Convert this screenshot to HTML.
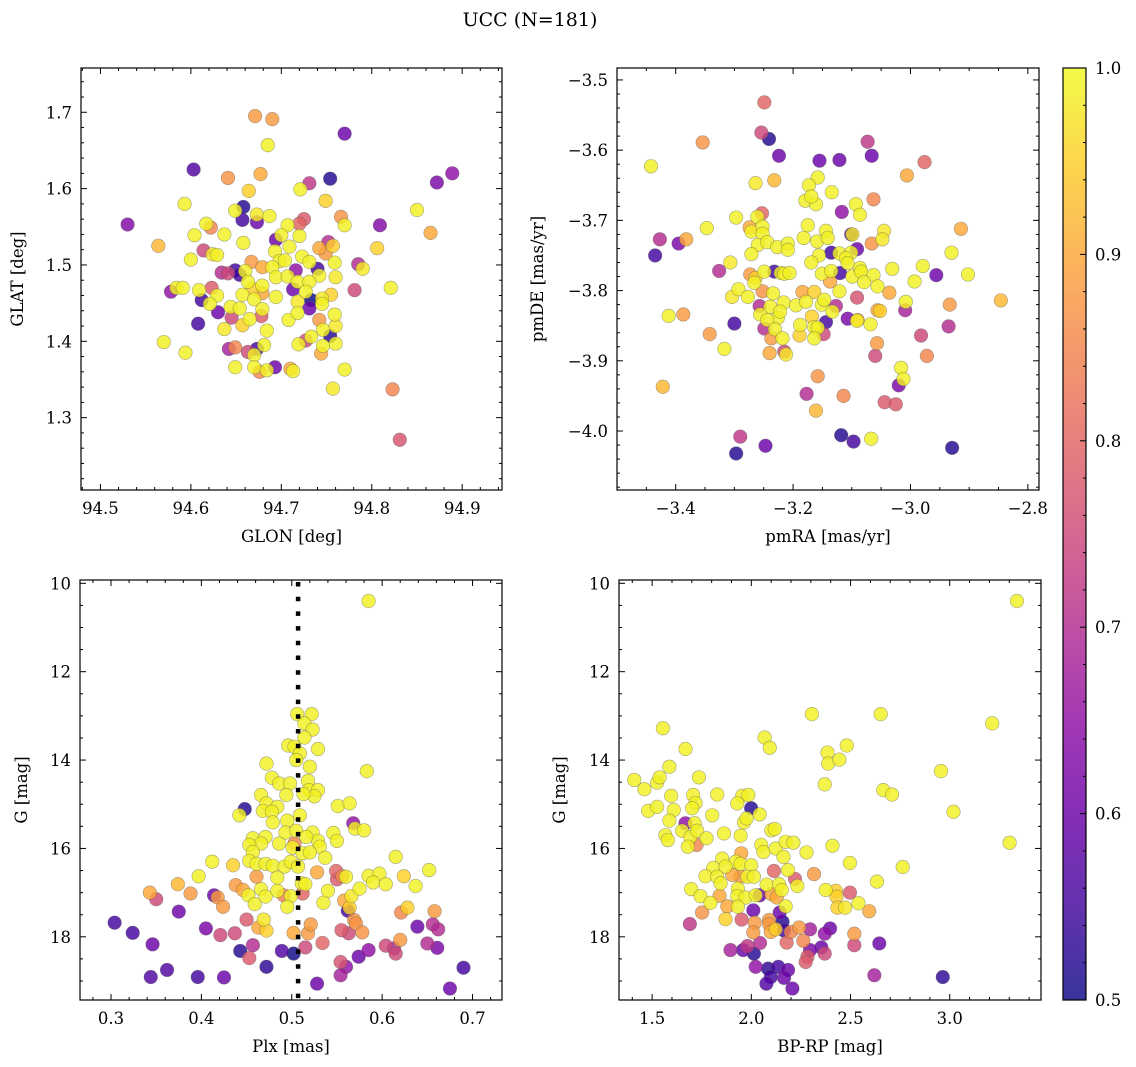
<!DOCTYPE html>
<html><head><meta charset="utf-8"><style>
html,body{margin:0;padding:0;background:#fff;}
svg{display:block;font-family:"DejaVu Serif","Liberation Serif",serif;}
</style></head><body>
<svg id="fig" width="1136" height="1067" viewBox="0 0 1136 1067" xmlns="http://www.w3.org/2000/svg">
<text x="530" y="26" font-size="19" text-anchor="middle">UCC (N=181)</text>
</svg>
<script>
// Panel 1: GLON / GLAT / membership probability
const glon = [94.671,94.690,94.685,94.770,94.603,94.641,94.677,94.754,94.731,94.721,94.664,94.593,94.749,94.658,94.649,94.673,94.687,94.657,94.673,94.530,94.622,94.617,94.707,94.720,94.725,94.766,94.770,94.809,94.564,94.604,94.637,94.658,94.694,94.700,94.720,94.614,94.624,94.629,94.693,94.709,94.742,94.752,94.757,94.749,94.806,94.600,94.667,94.679,94.698,94.704,94.723,94.731,94.759,94.785,94.790,94.634,94.641,94.649,94.654,94.660,94.690,94.716,94.740,94.742,94.760,94.663,94.679,94.694,94.707,94.718,94.731,94.578,94.584,94.591,94.609,94.623,94.629,94.657,94.668,94.679,94.713,94.727,94.755,94.781,94.821,94.612,94.621,94.630,94.644,94.654,94.670,94.694,94.718,94.733,94.731,94.745,94.745,94.608,94.637,94.645,94.657,94.665,94.678,94.679,94.708,94.718,94.742,94.759,94.760,94.746,94.570,94.594,94.642,94.649,94.663,94.673,94.670,94.681,94.684,94.719,94.727,94.733,94.754,94.760,94.746,94.744,94.649,94.670,94.676,94.684,94.693,94.710,94.713,94.770,94.757,94.823,94.831,94.850,94.865,94.872,94.889];
const glat = [1.695,1.691,1.657,1.672,1.625,1.614,1.619,1.613,1.607,1.599,1.597,1.580,1.584,1.576,1.571,1.566,1.564,1.559,1.556,1.553,1.549,1.554,1.552,1.554,1.560,1.563,1.552,1.552,1.525,1.539,1.540,1.529,1.533,1.539,1.538,1.519,1.514,1.513,1.518,1.524,1.522,1.530,1.525,1.515,1.522,1.507,1.504,1.497,1.505,1.506,1.511,1.504,1.503,1.501,1.495,1.490,1.489,1.493,1.487,1.492,1.497,1.493,1.495,1.486,1.484,1.478,1.473,1.484,1.485,1.478,1.478,1.465,1.470,1.470,1.467,1.470,1.460,1.461,1.469,1.463,1.468,1.465,1.461,1.467,1.470,1.454,1.449,1.438,1.445,1.443,1.455,1.458,1.452,1.454,1.443,1.456,1.449,1.423,1.416,1.431,1.421,1.429,1.433,1.442,1.428,1.437,1.428,1.435,1.420,1.415,1.399,1.385,1.390,1.392,1.386,1.390,1.382,1.395,1.414,1.396,1.401,1.406,1.407,1.397,1.394,1.384,1.366,1.366,1.360,1.362,1.366,1.364,1.361,1.363,1.338,1.337,1.271,1.572,1.542,1.608,1.620];
const prob1 = [0.88,0.88,0.99,0.6,0.57,0.87,0.9,0.52,0.72,0.99,0.95,0.99,0.95,0.52,0.99,0.98,0.99,0.55,0.6,0.63,0.85,0.99,0.99,0.8,0.78,0.87,0.99,0.63,0.92,0.99,0.99,0.99,0.6,0.99,0.99,0.75,0.98,0.99,0.99,0.99,0.9,0.7,0.95,0.88,0.95,0.99,0.88,0.9,0.99,0.99,0.99,0.99,0.99,0.7,0.98,0.7,0.75,0.55,0.55,0.99,0.99,0.65,0.55,0.99,0.98,0.99,0.99,0.99,0.99,0.99,0.99,0.65,0.99,0.99,0.99,0.78,0.99,0.99,0.95,0.9,0.6,0.99,0.95,0.75,0.99,0.55,0.99,0.6,0.99,0.99,0.99,0.99,0.98,0.5,0.6,0.98,0.99,0.55,0.98,0.75,0.95,0.99,0.78,0.99,0.99,0.99,0.88,0.99,0.98,0.99,0.99,0.99,0.68,0.85,0.75,0.55,0.99,0.99,0.99,0.99,0.75,0.99,0.52,0.99,0.99,0.9,0.99,0.99,0.85,0.99,0.6,0.9,0.99,0.99,0.98,0.85,0.77,0.99,0.9,0.62,0.65];

// Panel 2: pmRA / pmDE / probability
const pmra = [-3.249,-3.254,-3.241,-3.354,-3.073,-3.224,-3.155,-3.121,-3.066,-2.976,-3.442,-3.006,-3.264,-3.232,-3.158,-3.173,-3.134,-3.179,-3.161,-3.169,-3.063,-3.093,-3.086,-3.117,-3.253,-3.297,-3.261,-3.347,-3.274,-3.271,-3.252,-3.252,-3.175,-3.144,-2.914,-3.427,-3.395,-3.382,-3.260,-3.244,-3.227,-3.209,-3.209,-3.182,-3.159,-3.141,-3.101,-3.099,-3.045,-3.048,-3.066,-3.435,-3.271,-3.156,-3.135,-3.121,-3.091,-3.101,-2.930,-3.307,-3.169,-3.110,-3.107,-3.326,-3.273,-3.249,-3.232,-3.221,-3.215,-3.206,-3.151,-3.135,-3.120,-3.099,-3.086,-3.084,-3.063,-3.031,-2.979,-2.956,-2.902,-3.266,-3.264,-3.137,-3.079,-3.056,-2.993,-3.293,-3.252,-3.234,-3.184,-3.164,-3.121,-3.036,-3.304,-3.277,-2.846,-3.257,-3.239,-3.216,-3.195,-3.178,-3.151,-3.147,-3.127,-3.133,-3.091,-3.008,-3.009,-2.933,-3.412,-3.387,-3.256,-3.226,-3.222,-3.168,-3.300,-3.244,-3.144,-3.107,-3.090,-3.091,-3.068,-3.056,-3.052,-3.249,-3.231,-3.188,-3.164,-3.158,-3.148,-2.935,-3.342,-3.237,-3.218,-3.189,-3.164,-2.982,-3.317,-3.240,-3.215,-3.212,-3.057,-3.060,-2.972,-3.016,-3.020,-3.012,-3.158,-3.422,-3.177,-3.114,-3.044,-3.025,-3.161,-3.290,-3.247,-3.297,-3.118,-3.097,-3.067,-2.929];
const pmde = [-3.532,-3.575,-3.584,-3.589,-3.588,-3.608,-3.615,-3.614,-3.608,-3.617,-3.623,-3.636,-3.647,-3.643,-3.639,-3.650,-3.660,-3.672,-3.677,-3.666,-3.670,-3.677,-3.692,-3.688,-3.690,-3.696,-3.695,-3.711,-3.710,-3.716,-3.709,-3.719,-3.707,-3.715,-3.712,-3.727,-3.733,-3.727,-3.735,-3.731,-3.738,-3.733,-3.742,-3.725,-3.730,-3.725,-3.720,-3.720,-3.715,-3.727,-3.733,-3.750,-3.748,-3.750,-3.746,-3.747,-3.741,-3.746,-3.746,-3.760,-3.760,-3.754,-3.761,-3.772,-3.777,-3.773,-3.773,-3.775,-3.776,-3.775,-3.776,-3.772,-3.775,-3.780,-3.768,-3.773,-3.778,-3.769,-3.765,-3.778,-3.777,-3.789,-3.782,-3.787,-3.788,-3.794,-3.787,-3.798,-3.801,-3.804,-3.802,-3.802,-3.801,-3.803,-3.809,-3.809,-3.814,-3.822,-3.823,-3.817,-3.821,-3.816,-3.820,-3.813,-3.822,-3.830,-3.810,-3.816,-3.828,-3.820,-3.836,-3.834,-3.834,-3.839,-3.830,-3.837,-3.847,-3.842,-3.845,-3.840,-3.842,-3.843,-3.848,-3.828,-3.829,-3.854,-3.855,-3.849,-3.852,-3.853,-3.862,-3.851,-3.862,-3.868,-3.868,-3.864,-3.868,-3.864,-3.883,-3.889,-3.887,-3.891,-3.875,-3.893,-3.893,-3.910,-3.935,-3.926,-3.922,-3.937,-3.947,-3.950,-3.959,-3.962,-3.971,-4.008,-4.021,-4.032,-4.006,-4.015,-4.011,-4.024];
const prob2 = [0.8,0.75,0.52,0.87,0.72,0.6,0.6,0.6,0.6,0.8,0.99,0.9,0.98,0.92,0.99,0.99,0.99,0.99,0.99,0.99,0.85,0.99,0.99,0.65,0.8,0.99,0.99,0.99,0.9,0.99,0.99,0.99,0.99,0.99,0.9,0.7,0.62,0.9,0.99,0.99,0.99,0.99,0.99,0.99,0.99,0.99,0.55,0.98,0.98,0.98,0.87,0.55,0.99,0.99,0.55,0.99,0.6,0.99,0.99,0.98,0.99,0.99,0.99,0.7,0.88,0.99,0.55,0.99,0.99,0.99,0.99,0.99,0.55,0.99,0.99,0.99,0.99,0.99,0.99,0.6,0.99,0.99,0.95,0.9,0.99,0.99,0.99,0.99,0.87,0.99,0.9,0.95,0.99,0.9,0.98,0.99,0.92,0.7,0.99,0.99,0.99,0.99,0.99,0.99,0.7,0.99,0.77,0.99,0.68,0.88,0.99,0.88,0.99,0.99,0.99,0.95,0.55,0.99,0.55,0.62,0.9,0.99,0.99,0.9,0.95,0.7,0.99,0.99,0.99,0.99,0.75,0.7,0.88,0.88,0.99,0.95,0.99,0.75,0.99,0.9,0.75,0.98,0.88,0.75,0.85,0.99,0.62,0.99,0.87,0.92,0.7,0.85,0.78,0.78,0.92,0.72,0.6,0.52,0.52,0.55,0.99,0.52];

// Panel 3: Plx / G / probability
const plx = [0.585,0.506,0.522,0.514,0.523,0.514,0.496,0.503,0.529,0.509,0.505,0.472,0.520,0.583,0.478,0.486,0.498,0.518,0.519,0.529,0.525,0.494,0.513,0.466,0.472,0.484,0.448,0.442,0.468,0.478,0.479,0.495,0.509,0.551,0.564,0.568,0.570,0.580,0.493,0.505,0.523,0.546,0.550,0.529,0.531,0.516,0.457,0.471,0.466,0.453,0.486,0.503,0.501,0.512,0.520,0.457,0.537,0.615,0.412,0.435,0.453,0.461,0.471,0.479,0.492,0.499,0.507,0.528,0.652,0.397,0.461,0.484,0.549,0.550,0.556,0.560,0.585,0.597,0.590,0.624,0.604,0.637,0.374,0.438,0.446,0.452,0.466,0.484,0.511,0.515,0.575,0.540,0.343,0.350,0.388,0.414,0.418,0.424,0.459,0.471,0.491,0.499,0.495,0.512,0.535,0.558,0.566,0.564,0.562,0.628,0.621,0.658,0.375,0.304,0.324,0.346,0.344,0.362,0.396,0.425,0.405,0.421,0.437,0.450,0.453,0.457,0.443,0.463,0.469,0.472,0.472,0.489,0.502,0.502,0.518,0.521,0.515,0.534,0.528,0.555,0.563,0.569,0.571,0.578,0.554,0.560,0.554,0.574,0.585,0.604,0.615,0.613,0.620,0.639,0.656,0.662,0.650,0.661,0.690,0.675];
const gmag3 = [10.40,12.96,12.96,13.17,13.31,13.49,13.67,13.70,13.75,13.85,14.00,14.08,14.15,14.25,14.40,14.53,14.53,14.47,14.68,14.68,14.82,14.79,14.77,14.79,14.98,15.06,15.11,15.25,15.15,15.17,15.41,15.37,15.25,15.04,14.98,15.43,15.55,15.59,15.64,15.60,15.64,15.65,15.83,15.83,15.96,15.74,15.77,15.74,15.89,15.92,15.89,15.89,15.98,16.11,16.09,16.08,16.21,16.19,16.30,16.38,16.28,16.35,16.35,16.39,16.41,16.30,16.41,16.54,16.49,16.63,16.64,16.66,16.51,16.70,16.63,16.64,16.62,16.57,16.77,16.63,16.81,16.85,16.81,16.83,16.94,17.06,16.92,16.96,16.79,16.81,16.91,16.96,17.00,17.15,17.02,17.06,17.11,17.32,17.26,17.09,17.06,17.08,17.32,17.02,17.23,17.18,17.08,17.34,17.41,17.34,17.45,17.42,17.43,17.68,17.91,18.17,18.91,18.75,18.91,18.92,17.81,17.96,17.92,17.61,18.48,18.19,18.32,17.79,17.61,17.86,18.68,18.32,18.38,17.91,17.92,17.72,18.24,18.14,19.06,17.85,17.92,17.62,17.70,17.90,18.57,18.68,18.87,18.45,18.30,18.20,18.38,18.26,18.07,17.77,17.72,17.83,18.15,18.25,18.70,19.17];
const prob3 = [0.99,0.99,0.99,0.99,0.99,0.99,0.99,0.99,0.99,0.99,0.99,0.99,0.99,0.99,0.99,0.99,0.99,0.99,0.99,0.99,0.99,0.99,0.99,0.99,0.99,0.99,0.52,0.99,0.99,0.99,0.99,0.99,0.99,0.99,0.99,0.65,0.99,0.99,0.99,0.99,0.99,0.99,0.99,0.99,0.99,0.99,0.99,0.99,0.99,0.99,0.99,0.85,0.99,0.99,0.99,0.99,0.99,0.99,0.99,0.95,0.99,0.99,0.99,0.99,0.99,0.99,0.99,0.9,0.99,0.99,0.88,0.99,0.8,0.78,0.85,0.99,0.99,0.99,0.99,0.95,0.99,0.99,0.92,0.88,0.9,0.99,0.99,0.99,0.99,0.99,0.99,0.99,0.9,0.75,0.88,0.6,0.88,0.88,0.99,0.99,0.85,0.99,0.99,0.8,0.99,0.9,0.98,0.95,0.55,0.95,0.85,0.88,0.6,0.55,0.55,0.6,0.57,0.57,0.55,0.6,0.62,0.75,0.75,0.78,0.78,0.7,0.52,0.9,0.98,0.95,0.53,0.57,0.5,0.9,0.88,0.88,0.75,0.8,0.6,0.78,0.75,0.87,0.87,0.87,0.77,0.65,0.68,0.6,0.65,0.75,0.75,0.7,0.88,0.6,0.7,0.7,0.7,0.62,0.55,0.6];

// Panel 4: BP-RP / G / probability
const bprp = [3.339,2.305,2.652,3.214,1.554,2.067,2.093,1.668,2.481,2.384,2.387,2.444,1.587,1.736,2.956,1.410,1.461,1.525,1.538,2.370,2.665,2.709,1.596,1.707,1.828,1.954,1.985,1.929,1.719,1.999,1.480,1.525,1.609,1.702,1.803,2.042,3.019,1.587,1.668,1.714,1.651,1.963,1.976,2.101,2.118,1.567,1.579,1.693,1.727,1.724,1.680,1.774,1.862,1.946,2.050,2.061,2.123,2.173,2.212,2.278,2.409,3.302,2.162,1.853,1.949,1.921,1.946,1.999,1.808,1.870,1.769,1.828,1.904,1.946,1.980,2.013,2.114,2.185,2.220,2.316,2.497,2.763,1.845,2.077,2.140,2.232,1.697,1.932,2.153,2.375,2.426,2.633,1.744,1.840,1.929,1.971,2.022,2.042,2.101,2.128,2.429,2.497,1.794,1.879,1.932,2.173,2.434,2.473,2.540,1.752,2.010,2.143,2.594,1.690,1.870,1.951,2.017,2.089,2.089,2.157,2.010,2.098,2.123,2.165,2.199,2.241,2.296,2.397,2.370,2.519,2.262,2.178,2.044,1.895,1.959,1.980,2.013,2.296,2.353,2.370,2.283,2.274,2.519,2.645,2.022,2.084,2.136,2.185,2.098,2.165,2.076,2.207,2.620,2.965];
const gmag4 = [10.40,12.96,12.96,13.17,13.28,13.49,13.72,13.75,13.67,13.83,14.08,13.99,14.15,14.39,14.25,14.45,14.66,14.51,14.39,14.55,14.68,14.78,14.81,14.79,14.78,14.81,14.79,14.98,14.97,15.09,15.15,15.06,15.13,15.09,15.25,15.23,15.17,15.37,15.43,15.43,15.60,15.41,15.32,15.59,15.56,15.70,15.81,15.74,15.60,15.92,15.96,15.77,15.66,15.71,15.92,16.08,16.00,15.85,15.87,16.09,15.94,15.87,16.19,16.23,16.11,16.30,16.35,16.38,16.44,16.41,16.63,16.64,16.60,16.64,16.64,16.64,16.51,16.49,16.69,16.58,16.33,16.42,16.79,16.82,16.81,16.85,16.92,16.91,16.94,16.94,16.96,16.75,17.08,17.07,17.08,17.11,17.06,17.06,17.03,17.11,17.09,17.00,17.23,17.31,17.32,17.31,17.34,17.34,17.24,17.45,17.40,17.45,17.42,17.71,17.60,17.61,17.68,17.62,17.71,17.66,17.90,17.89,17.83,17.86,17.89,17.79,17.83,17.81,17.93,17.93,18.09,18.13,18.14,18.30,18.30,18.21,18.38,18.30,18.24,18.38,18.45,18.57,18.19,18.15,18.68,18.72,18.68,18.75,18.91,18.93,19.06,19.17,18.87,18.91];
const prob4 = [0.99,0.99,0.99,0.99,0.99,0.99,0.99,0.99,0.99,0.99,0.99,0.99,0.99,0.99,0.99,0.99,0.99,0.99,0.99,0.99,0.99,0.99,0.99,0.99,0.99,0.99,0.99,0.99,0.99,0.52,0.99,0.99,0.99,0.99,0.99,0.99,0.99,0.99,0.65,0.99,0.99,0.99,0.99,0.99,0.99,0.99,0.99,0.99,0.99,0.85,0.99,0.99,0.99,0.99,0.99,0.99,0.99,0.99,0.99,0.99,0.99,0.99,0.99,0.99,0.9,0.99,0.99,0.99,0.99,0.99,0.99,0.99,0.9,0.88,0.99,0.99,0.8,0.99,0.78,0.88,0.99,0.99,0.99,0.99,0.99,0.99,0.99,0.99,0.99,0.99,0.95,0.99,0.99,0.9,0.99,0.99,0.99,0.6,0.9,0.9,0.95,0.78,0.99,0.9,0.99,0.99,0.95,0.98,0.99,0.87,0.6,0.6,0.9,0.72,0.95,0.78,0.88,0.88,0.88,0.52,0.88,0.9,0.95,0.55,0.85,0.88,0.68,0.6,0.65,0.88,0.85,0.8,0.7,0.68,0.6,0.72,0.52,0.62,0.6,0.75,0.78,0.78,0.75,0.6,0.65,0.53,0.55,0.6,0.55,0.6,0.57,0.6,0.68,0.53];

const plxRef = [0.507];
const cbTicks = [0.5,0.6,0.7,0.8,0.9,1.0];

const NS = 'http://www.w3.org/2000/svg';
const svg = document.getElementById('fig');
function mk(tag, attrs, parent){
  const e = document.createElementNS(NS, tag);
  for (const k in attrs) e.setAttribute(k, attrs[k]);
  (parent||svg).appendChild(e);
  return e;
}
const stops = [[13,8,135],[65,4,157],[106,0,168],[143,13,164],[177,42,144],[204,71,120],[225,100,98],[242,132,75],[252,166,54],[252,206,37],[240,249,33]];
function plasma(t){
  t = Math.max(0, Math.min(1, t));
  const f = t*10, i = Math.min(9, Math.floor(f)), r = f - i;
  const a = stops[i], b = stops[i+1];
  return 'rgb(' + [0,1,2].map(k => Math.round(a[k] + (b[k]-a[k])*r)).join(',') + ')';
}
function cnorm(p){ return (p - 0.5) / 0.5; }

function fmt(v, d){ const s = v.toFixed(d); return s.startsWith('-') ? '\u2212' + s.slice(1) : s; }

function panel(cfg){
  const {L,R,T,B,x0,x1,y0,y1,invertY,xt,xm,yt,ym,xd,yd,xlabel,ylabel,ylabX,name,xs,ys,ps} = cfg;
  const sx = v => L + (v - x0) / (x1 - x0) * (R - L);
  const sy = invertY ? (v => T + (v - y0) / (y1 - y0) * (B - T)) : (v => B - (v - y0) / (y1 - y0) * (B - T));
  const g = mk('g', {});
  
  
  const clipId = name + '-clip';
  const cp = mk('clipPath', {id: clipId}, g);
  mk('rect', {x: L, y: T, width: R-L, height: B-T}, cp);
  const pts = mk('g', {'clip-path': 'url(#' + clipId + ')'}, g);
  
  
  const idx = xs.map((_, i) => i).sort((a, b) => ps[a] - ps[b]);
  idx.forEach(i => {
    const c = mk('circle', {cx: sx(xs[i]), cy: sy(ys[i]), r: 6.8, fill: plasma(cnorm(ps[i])), 'fill-opacity': 0.82, stroke: '#555', 'stroke-opacity': 0.5, 'stroke-width': 0.6}, pts);
    
    
  });
  cfg.extra && cfg.extra(g, sx, sy, clipId);
  const fr = mk('rect', {x: L, y: T, width: R-L, height: B-T, fill: 'none', stroke: '#000', 'stroke-width': 1.2}, g);
  
  
  const tg = mk('g', {stroke: '#000', 'stroke-width': 1}, g);
  const eps = 1e-9;
  for (let v = Math.ceil((Math.min(x0,x1)) / xm - eps) * xm; v <= Math.max(x0,x1) + eps; v += xm) {
    const isMaj = Math.abs(v / xt - Math.round(v / xt)) < 1e-6;
    const len = isMaj ? 6 : 3, X = sx(v);
    mk('line', {x1: X, x2: X, y1: B, y2: B - len}, tg);
    mk('line', {x1: X, x2: X, y1: T, y2: T + len}, tg);
  }
  for (let v = Math.ceil((Math.min(y0,y1)) / ym - eps) * ym; v <= Math.max(y0,y1) + eps; v += ym) {
    const isMaj = Math.abs(v / yt - Math.round(v / yt)) < 1e-6;
    const len = isMaj ? 6 : 3, Y = sy(v);
    mk('line', {x1: L, x2: L + len, y1: Y, y2: Y}, tg);
    mk('line', {x1: R, x2: R - len, y1: Y, y2: Y}, tg);
  }
  for (let v = Math.ceil(Math.min(x0,x1) / xt - eps) * xt; v <= Math.max(x0,x1) + eps; v += xt) {
    const t = mk('text', {x: sx(v), y: B + 24, 'font-size': 16.5, 'text-anchor': 'middle'}, g);
    t.textContent = fmt(v, xd);
    
    
  }
  for (let v = Math.ceil(Math.min(y0,y1) / yt - eps) * yt; v <= Math.max(y0,y1) + eps; v += yt) {
    const t = mk('text', {x: L - 9, y: sy(v) + 6, 'font-size': 16.5, 'text-anchor': 'end'}, g);
    t.textContent = fmt(v, yd);
    
    
  }
  const xl = mk('text', {x: (L + R) / 2, y: B + 52, 'font-size': 16.5, 'text-anchor': 'middle'}, g);
  xl.textContent = xlabel;
  
  
  const yl = mk('text', {x: 0, y: 0, 'font-size': 16.5, 'text-anchor': 'middle', transform: 'translate(' + ylabX + ',' + ((T + B) / 2) + ') rotate(-90)'}, g);
  yl.textContent = ylabel;
  
  
}

panel({name:'glon-glat', L:81, R:502, T:68, B:490, x0:94.4785, x1:94.944, y0:1.2052, y1:1.758, xt:0.1, xm:0.02, yt:0.1, ym:0.02, xd:1, yd:1, xlabel:'GLON [deg]', ylabel:'GLAT [deg]', ylabX:23, xs:glon, ys:glat, ps:prob1});
panel({name:'pm', L:617, R:1039, T:68, B:490, x0:-3.5, x1:-2.781, y0:-4.084, y1:-3.483, xt:0.2, xm:0.05, yt:0.1, ym:0.02, xd:1, yd:1, xlabel:'pmRA [mas/yr]', ylabel:'pmDE [mas/yr]', ylabX:543, xs:pmra, ys:pmde, ps:prob2});
panel({name:'plx-g', L:80, R:502, T:580, B:1000, x0:0.2657, x1:0.7326, y0:9.925, y1:19.43, invertY:true, xt:0.1, xm:0.02, yt:2, ym:0.5, xd:1, yd:0, xlabel:'Plx [mas]', ylabel:'G [mag]', ylabX:27, xs:plx, ys:gmag3, ps:prob3,
  extra:(g, sx, sy, clipId) => {
    plxRef.forEach(v => {
      const ln = mk('line', {x1: sx(v), x2: sx(v), y1: 582, y2: 1000, stroke: '#000', 'stroke-width': 4.5, 'stroke-dasharray': '4.5 10.2', 'clip-path': 'url(#' + clipId + ')'}, g);
      
      
    });
  }});
panel({name:'cmd', L:619, R:1041, T:580, B:1000, x0:1.333, x1:3.46, y0:9.925, y1:19.43, invertY:true, xt:0.5, xm:0.1, yt:2, ym:0.5, xd:1, yd:0, xlabel:'BP-RP [mag]', ylabel:'G [mag]', ylabX:565, xs:bprp, ys:gmag4, ps:prob4});

(function(){
  const L = 1063, R = 1086, T = 68, B = 1000;
  const g = mk('g', {});
  
  
  const defs = mk('defs', {}, g);
  const lg = mk('linearGradient', {id: 'cbgrad', x1: 0, y1: 1, x2: 0, y2: 0}, defs);
  for (let i = 0; i <= 20; i++) {
    mk('stop', {offset: (i / 20), 'stop-color': plasma(i / 20), 'stop-opacity': 0.82}, lg);
  }
  mk('rect', {x: L, y: T, width: R - L, height: B - T, fill: 'url(#cbgrad)', stroke: '#000', 'stroke-width': 1.2}, g);
  const sy = v => B - (v - 0.5) / 0.5 * (B - T);
  for (let v = 0.5; v <= 1.0001; v += 0.02) {
    const maj = Math.abs(v * 10 - Math.round(v * 10)) < 1e-6;
    mk('line', {x1: R, x2: R - (maj ? 6 : 3), y1: sy(v), y2: sy(v), stroke: '#000', 'stroke-width': 1}, g);
  }
  cbTicks.forEach(v => {
    const t = mk('text', {x: R + 9, y: sy(v) + 6, 'font-size': 16.5}, g);
    t.textContent = v.toFixed(1);
    
    
  });
})();
</script>
</body></html>
